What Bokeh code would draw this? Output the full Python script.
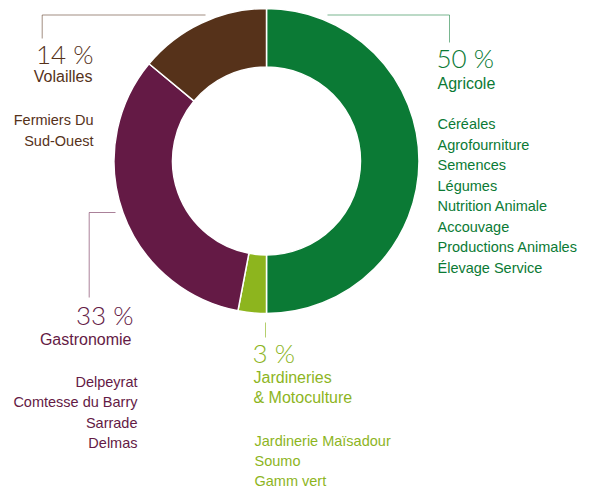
import math
from bokeh.plotting import figure
from bokeh.models import Range1d
from bokeh.core.properties import value
from bokeh.embed import file_html
from bokeh.resources import INLINE

# ---- data ----
categories = ["Agricole", "Jardineries", "Gastronomie", "Volailles"]
shares = [50, 3, 33, 14]
pct_labels = ["50 %", "3 %", "33 %", "14 %"]
colors = ["#0b7a35", "#8db51e", "#641a45", "#56321a"]
agricole_items = ["Céréales", "Agrofourniture", "Semences", "Légumes",
                  "Nutrition Animale", "Accouvage", "Productions Animales",
                  "Élevage Service"]
jardin_items = ["Jardinerie Maïsadour", "Soumo", "Gamm vert"]
gastro_items = ["Delpeyrat", "Comtesse du Barry", "Sarrade", "Delmas"]
volaille_items = ["Fermiers Du", "Sud-Ouest"]

W, H = 594, 493


def Y(v):
    return H - v


p = figure(width=W, height=H, output_backend="svg", toolbar_location=None,
           x_range=Range1d(0, W), y_range=Range1d(0, H))
p.axis.visible = False
p.grid.visible = False
p.outline_line_color = None
p.min_border = 0
p.background_fill_color = "white"
p.border_fill_color = "white"

# ---- donut ----
total = sum(shares)
starts, ends = [], []
acc = 0.0
for s in shares:
    starts.append(math.pi / 2 - 2 * math.pi * acc / total)
    acc += s
    ends.append(math.pi / 2 - 2 * math.pi * acc / total)

p.annular_wedge(x=266, y=Y(160.5), inner_radius=94, outer_radius=152.5,
                start_angle=starts, end_angle=ends, direction="clock",
                fill_color=colors, line_color="white", line_width=1.5)

FONT = value("Liberation Sans")
BIG = value("Lato Light")

# ---- leader lines ----
p.line(x=[41.7, 41.7, 205], y=[Y(38), Y(14.5), Y(14.5)], line_color=colors[3],
       line_alpha=0.55, line_width=1)
p.line(x=[327, 449, 449], y=[Y(14.5), Y(14.5), Y(42)], line_color=colors[0],
       line_alpha=0.55, line_width=1)
p.line(x=[115, 88.7, 88.7], y=[Y(212), Y(212), Y(297)], line_color=colors[2],
       line_alpha=0.55, line_width=1)
p.line(x=[265, 265], y=[Y(322), Y(337)], line_color=colors[1],
       line_alpha=0.65, line_width=1)


def txt(x, y, s, color, size, align, font=FONT):
    px = float(size.replace("px", ""))
    p.text(x=[x], y=[Y(y - 0.42 * px)], text=[s], text_color=color,
           text_font=font, text_font_size=size, text_align=align,
           text_baseline="alphabetic")


SMALL = "14.5px"

# Agricole
txt(436, 68.5, pct_labels[0], colors[0], "26px", "left", BIG)
txt(437, 89.5, categories[0], colors[0], "16px", "left")
for i, s in enumerate(agricole_items):
    txt(437, 130 + 20.5 * i, s, colors[0], SMALL, "left")

# Jardineries
txt(252, 363.5, pct_labels[1], colors[1], "26px", "left", BIG)
txt(253, 383.5, categories[1], colors[1], "16px", "left")
txt(253, 404, "& Motoculture", colors[1], "16px", "left")
for i, s in enumerate(jardin_items):
    txt(254, 446.5 + 20.2 * i, s, colors[1], SMALL, "left")

# Gastronomie
txt(133, 325.5, pct_labels[2], colors[2], "26px", "right", BIG)
txt(131, 345.5, categories[2], colors[2], "16px", "right")
for i, s in enumerate(gastro_items):
    txt(137, 387.5 + 20.3 * i, s, colors[2], SMALL, "right")

# Volailles
txt(93, 64, pct_labels[3], colors[3], "26px", "right", BIG)
txt(92, 83, categories[3], colors[3], "16px", "right")
for i, s in enumerate(volaille_items):
    txt(93, 126 + 20.7 * i, s, colors[3], SMALL, "right")

open("out.html", "w").write(file_html(p, INLINE))
